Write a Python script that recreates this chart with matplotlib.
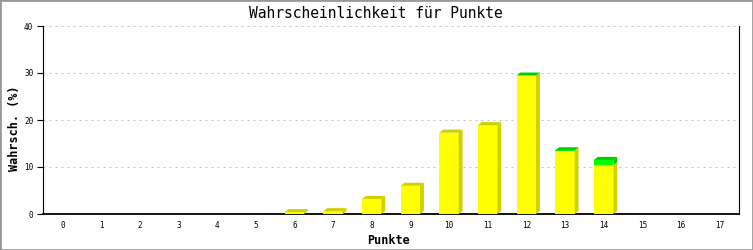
import matplotlib
matplotlib.use('Agg')
import matplotlib.pyplot as plt
from matplotlib.patches import Polygon, Rectangle

# data
punkte = list(range(18))
gelb = [0, 0, 0, 0, 0, 0, 0.4, 0.6, 3.2, 6.0, 17.3, 18.9, 29.4, 13.5, 10.4, 0, 0, 0]
gruen = [0, 0, 0, 0, 0, 0, 0, 0, 0, 0, 0, 0, 0.05, 0.05, 1.1, 0, 0, 0]
yticks = [0, 10, 20, 30, 40]

front_cols = ['#ffff00', '#00ff00']
dark_cols = ['#d0d000', '#00cc00']
bw = 0.5
dx, dy = 0.1, 0.65  # 3d depth in data units

fig = plt.figure(figsize=(7.53, 2.5), dpi=100)
ax = fig.add_axes([43 / 753, 36 / 250, 696 / 753, 188 / 250])

for x, g, gr in zip(punkte, gelb, gruen):
    if g + gr <= 0:
        continue
    xl, xr = x - bw / 2, x + bw / 2
    bottom = 0
    segs = [(g, 0), (gr, 1)]
    segs = [s for s in segs if s[0] > 0]
    for i, (h, c) in enumerate(segs):
        top = bottom + h
        ax.add_patch(Rectangle((xl, bottom), bw, h, facecolor=front_cols[c], edgecolor='none', zorder=3))
        ax.add_patch(Polygon([(xr, bottom), (xr + dx, bottom + dy), (xr + dx, top + dy), (xr, top)],
                             closed=True, facecolor=dark_cols[c], edgecolor='none', zorder=3))
        if i == len(segs) - 1:
            ax.add_patch(Polygon([(xl, top), (xl + dx, top + dy), (xr + dx, top + dy), (xr, top)],
                                 closed=True, facecolor=dark_cols[c], edgecolor='none', zorder=3))
        bottom = top

ax.set_xlim(-0.5, 17.5)
ax.set_ylim(0, 40)
ax.set_xticks(punkte)
ax.set_xticklabels([str(p) for p in punkte], family='DejaVu Sans Mono', fontsize=5.5)
ax.set_yticks(yticks)
ax.set_yticklabels([str(v) for v in yticks], family='DejaVu Sans Mono', fontsize=5.5)
ax.tick_params(axis='x', length=0, pad=5)
ax.tick_params(axis='y', length=4, width=0.8, pad=3)

# dotted grid
for v in yticks[1:]:
    ax.axhline(v, color='#c0c0c0', lw=0.72, ls=(0, (2, 4)), zorder=1)

ax.spines['top'].set_visible(False)
ax.spines['left'].set_linewidth(0.8)
ax.spines['right'].set_linewidth(0.8)
ax.spines['bottom'].set_linewidth(1.3)

fig.text(376 / 753, 0.944, 'Wahrscheinlichkeit für Punkte', ha='center', va='center',
         family='DejaVu Sans Mono', fontsize=10.5)
fig.text(389 / 753, 0.04, 'Punkte', ha='center', va='center',
         family='DejaVu Sans Mono', fontsize=8.5, weight='bold')
fig.text(0.019, 0.488, 'Wahrsch. (%)', ha='center', va='center', rotation=90,
         family='DejaVu Sans Mono', fontsize=8.5, weight='bold')

fig.patches.append(Rectangle((0, 0), 1, 1, transform=fig.transFigure, fill=False,
                             edgecolor='#999999', lw=2))

fig.savefig('out.png', dpi=100)
